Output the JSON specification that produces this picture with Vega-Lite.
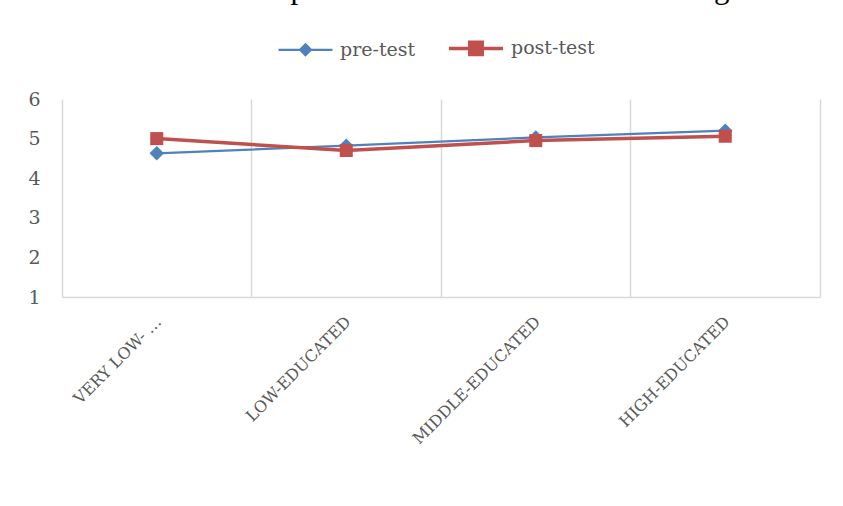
{
  "$schema": "https://vega.github.io/schema/vega-lite/v6.json",
  "autosize": {"type": "none"},
  "width": 758,
  "height": 198,
  "padding": {"left": 62, "top": 99, "right": 23, "bottom": 209},
  "background": "white",
  "title": {
    "text": "FIGURE 5.7. Effect of parental educational level on change in K",
    "anchor": "start",
    "frame": "group",
    "dx": -62,
    "dy": 26,
    "offset": 16,
    "baseline": "alphabetic",
    "font": "Liberation Serif",
    "fontSize": 31,
    "fontWeight": "normal",
    "color": "#000000"
  },
  "config": {
    "view": {"stroke": null},
    "axis": {"labelFont": "DejaVu Serif", "labelColor": "#595959"}
  },
  "data": {
    "values": [
      {"level": "VERY LOW- …", "series": "pre-test", "score": 4.63},
      {"level": "LOW-EDUCATED", "series": "pre-test", "score": 4.82},
      {"level": "MIDDLE-EDUCATED", "series": "pre-test", "score": 5.03},
      {"level": "HIGH-EDUCATED", "series": "pre-test", "score": 5.2},
      {"level": "VERY LOW- …", "series": "post-test", "score": 5.0},
      {"level": "LOW-EDUCATED", "series": "post-test", "score": 4.7},
      {"level": "MIDDLE-EDUCATED", "series": "post-test", "score": 4.95},
      {"level": "HIGH-EDUCATED", "series": "post-test", "score": 5.06}
    ]
  },
  "encoding": {
    "x": {
      "field": "level",
      "type": "nominal",
      "sort": null,
      "scale": {"type": "band", "paddingInner": 0, "paddingOuter": 0},
      "axis": {
        "title": null,
        "bandPosition": 1,
        "grid": true,
        "gridColor": "#d9d9d9",
        "gridWidth": 1.5,
        "ticks": false,
        "domain": true,
        "domainColor": "#d9d9d9",
        "domainWidth": 1.5,
        "labelAngle": -45,
        "labelAlign": "right",
        "labelBaseline": "middle",
        "labelOffset": 2,
        "labelPadding": 22,
        "labelFontSize": 16,
        "labelColor": "#595959"
      }
    },
    "y": {
      "field": "score",
      "type": "quantitative",
      "scale": {"domain": [1, 6], "nice": false, "zero": false},
      "axis": {
        "title": null,
        "values": [1, 2, 3, 4, 5, 6],
        "grid": false,
        "ticks": false,
        "domain": true,
        "domainColor": "#d9d9d9",
        "domainWidth": 1.5,
        "labelFontSize": 19,
        "labelPadding": 22,
        "labelColor": "#595959"
      }
    }
  },
  "layer": [
    {
      "mark": {"type": "line"},
      "encoding": {
        "strokeWidth": {
          "field": "series",
          "type": "nominal",
          "scale": {"domain": ["pre-test", "post-test"], "range": [2.25, 3.5]},
          "legend": null
        },
        "color": {
          "field": "series",
          "type": "nominal",
          "scale": {"domain": ["pre-test", "post-test"], "range": ["#4f81bd", "#c0504d"]},
          "legend": {
            "title": null,
            "orient": "none",
            "direction": "horizontal",
            "legendX": 215,
            "legendY": -80,
            "padding": 0,
            "symbolSize": 2916,
            "labelFont": "DejaVu Serif",
            "labelFontSize": 19,
            "labelColor": "#595959",
            "labelOffset": 6,
            "columnPadding": 26,
            "encode": {
              "symbols": {
                "update": {
                  "shape": {"signal": "datum.value === 'pre-test' ? 'M-1,0H1M0,-0.2L0.2,0L0,0.2L-0.2,0Z' : 'M-1,0H1M-0.23,-0.23H0.23V0.23H-0.23Z'"},
                  "fill": {"signal": "datum.value === 'pre-test' ? '#4f81bd' : '#c0504d'"},
                  "stroke": {"signal": "datum.value === 'pre-test' ? '#4f81bd' : '#c0504d'"},
                  "strokeWidth": {"signal": "datum.value === 'pre-test' ? 2.25 : 3.5"},
                  "opacity": {"value": 1}
                }
              }
            }
          }
        }
      }
    },
    {
      "transform": [{"filter": "datum.series === 'pre-test'"}],
      "mark": {"type": "point", "filled": true, "opacity": 1, "shape": "diamond", "size": 210, "color": "#4f81bd"}
    },
    {
      "transform": [{"filter": "datum.series === 'post-test'"}],
      "mark": {"type": "point", "filled": true, "opacity": 1, "shape": "square", "size": 170, "color": "#c0504d"}
    }
  ]
}
